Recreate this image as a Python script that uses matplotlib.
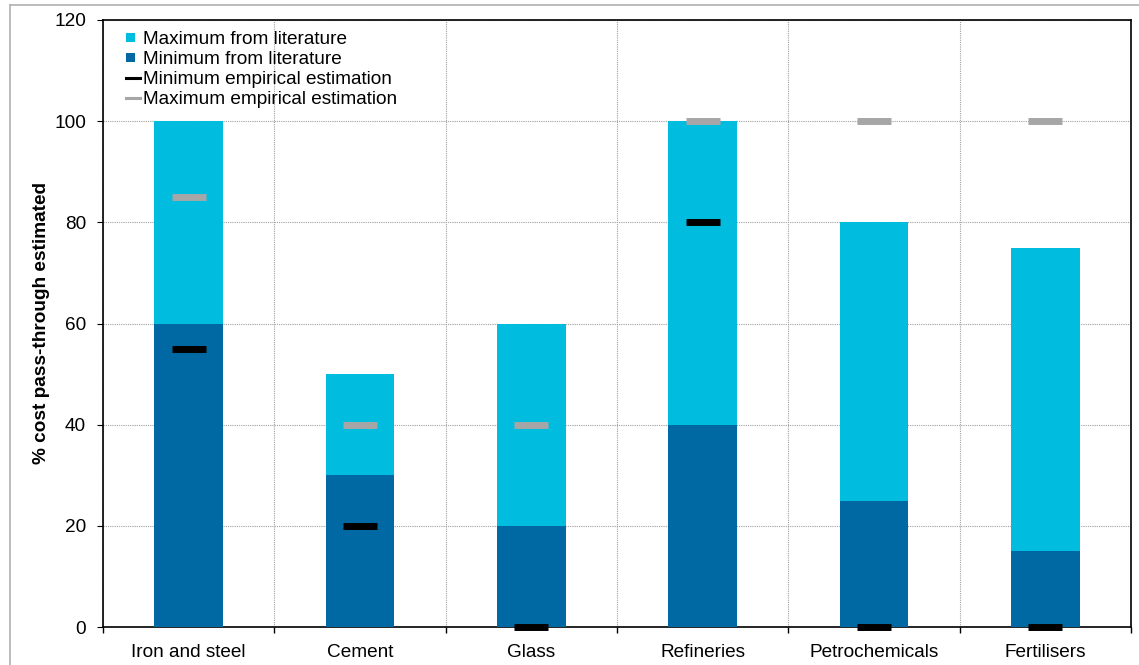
import matplotlib
matplotlib.use("Agg")
import matplotlib.pyplot as plt
from matplotlib.lines import Line2D
from matplotlib.patches import Patch, Rectangle
from matplotlib.legend_handler import HandlerPatch
import numpy as np

plt.rcParams['font.family'] = ['Liberation Sans', 'DejaVu Sans']

sectors = ["Iron and steel", "Cement", "Glass", "Refineries", "Petrochemicals", "Fertilisers"]
max_literature = [100, 50, 60, 100, 80, 75]
min_literature = [60, 30, 20, 40, 25, 15]
min_empirical = [55, 20, 0, 80, 0, 0]
max_empirical = [85, 40, 40, 100, 100, 100]

light_blue = "#00BDE0"
dark_blue = "#0068A2"
grey = "#A6A6A6"
FS = 13.7

W, H = 1139, 665
fig = plt.figure(figsize=(W / 100, H / 100), dpi=100)
ax = fig.add_axes([103 / W, 1 - 627 / H, (1131 - 103) / W, (627 - 20) / H])

x = np.arange(len(sectors))
bw = 0.4
ax.bar(x, max_literature, width=bw, color=light_blue, zorder=2)
ax.bar(x, min_literature, width=bw, color=dark_blue, zorder=3)

hw = 0.099
ax.hlines(min_empirical, x - hw, x + hw, colors="black", linewidth=5, zorder=5, clip_on=False)
ax.hlines(max_empirical, x - hw, x + hw, colors=grey, linewidth=5, zorder=5, clip_on=False)

ax.set_xlim(-0.5, len(sectors) - 0.5)
ax.set_ylim(0, 120)
ax.set_yticks(range(0, 121, 20))
ax.set_xticks(x)
ax.set_xticklabels(sectors)
ax.set_xticks(np.arange(-0.5, len(sectors), 1), minor=True)
ax.tick_params(axis="x", which="major", length=0, pad=12, labelsize=FS)
ax.tick_params(axis="x", which="minor", length=4.3, direction="out", width=1)
ax.tick_params(axis="y", length=4.3, direction="out", labelsize=FS, pad=8)

ax.grid(axis="y", which="major", color="#A0A0A0", linestyle=(0, (1, 1)), linewidth=0.8, zorder=0)
ax.grid(axis="x", which="minor", color="#A0A0A0", linestyle=(0, (1, 1)), linewidth=0.8, zorder=0)
ax.grid(axis="x", which="major", visible=False)
ax.set_axisbelow(True)
for s in ax.spines.values():
    s.set_linewidth(1.2)
    s.set_color("black")

ax.set_ylabel("% cost pass-through estimated", fontsize=FS, fontweight="bold", labelpad=3)


def small_square(legend, orig_handle, xdescent, ydescent, width, height, fontsize):
    side = 6.2
    return Rectangle((-xdescent, -ydescent + (height - side) / 2), side, side)


handles = [
    Patch(facecolor=light_blue, label="Maximum from literature"),
    Patch(facecolor=dark_blue, label="Minimum from literature"),
    Line2D([0], [0], color="black", linewidth=2.2, label="Minimum empirical estimation"),
    Line2D([0], [0], color=grey, linewidth=2.2, label="Maximum empirical estimation"),
]
ax.legend(handles=handles, loc="upper left", bbox_to_anchor=(0.0224, 0.982), frameon=False,
          fontsize=FS, handlelength=0.73, handleheight=0.6, handletextpad=0.15,
          labelspacing=0.16, borderaxespad=0, borderpad=0,
          handler_map={Patch: HandlerPatch(patch_func=small_square)})

# thin grey frame around the figure area
fig.add_artist(Line2D([10 / W, 1], [1 - 5 / H, 1 - 5 / H], color="#B0B0B0", linewidth=1.2))
fig.add_artist(Line2D([10 / W, 10 / W], [0, 1 - 5 / H], color="#B0B0B0", linewidth=1.2))

fig.savefig("out.png", dpi=100)
